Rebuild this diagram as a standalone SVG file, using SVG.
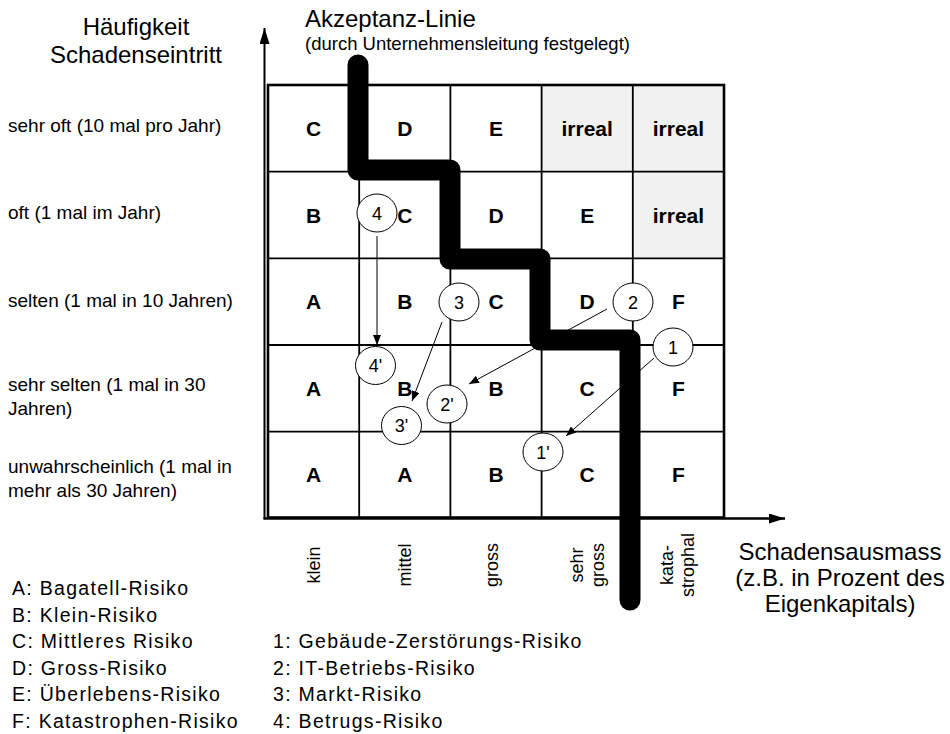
<svg xmlns="http://www.w3.org/2000/svg" width="950" height="734" viewBox="0 0 950 734">
  <defs>
    <marker id="tip" viewBox="0 0 10 8" refX="10" refY="4" markerWidth="10" markerHeight="8" markerUnits="userSpaceOnUse" orient="auto">
      <path d="M0,0 L10,4 L0,8 Z" fill="#000"/>
    </marker>
    <marker id="axisTip" viewBox="0 0 16 10" refX="16" refY="5" markerWidth="16" markerHeight="10" markerUnits="userSpaceOnUse" orient="auto">
      <path d="M0,0 L16,5 L0,10 Z" fill="#000"/>
    </marker>
  </defs>
  <style>
    text { font-family: "Liberation Sans", Arial, sans-serif; fill: #000; }
    .cell { font-size: 21px; font-weight: bold; text-anchor: middle; }
    .row { font-size: 19px; }
    .title { font-size: 24px; }
    .sub { font-size: 18.5px; }
    .col { font-size: 18px; text-anchor: middle; }
    .legend { font-size: 19.5px; letter-spacing: 1.3px; }
    .grid { stroke: #000; stroke-width: 1.8; fill: none; }
    .frame { stroke: #000; stroke-width: 2.6; fill: none; }
    .gray { fill: #f1f1f1; }
    .mark { fill: #fff; stroke: #000; stroke-width: 1; }
    .mlabel { font-size: 18px; text-anchor: middle; }
    .arrow { stroke: #000; stroke-width: 1; fill: none; marker-end: url(#tip); }
  </style>
  <rect width="950" height="734" fill="#fff"/>

  <!-- axis titles -->
  <g id="y-title">
    <text class="title" x="136" y="35" text-anchor="middle">Häufigkeit</text>
    <text class="title" x="136" y="63" text-anchor="middle">Schadenseintritt</text>
  </g>
  <g id="line-title">
    <text class="title" x="305" y="27">Akzeptanz-Linie</text>
    <text class="sub" x="305" y="50">(durch Unternehmensleitung festgelegt)</text>
  </g>
  <g id="x-title">
    <text class="title" x="840" y="560" text-anchor="middle">Schadensausmass</text>
    <text class="title" x="840" y="586" text-anchor="middle">(z.B. in Prozent des</text>
    <text class="title" x="840" y="612" text-anchor="middle">Eigenkapitals)</text>
  </g>

  <!-- frequency levels -->
  <g id="rows">
    <text class="row" x="8" y="132">sehr oft (10 mal pro Jahr)</text>
    <text class="row" x="8" y="219">oft (1 mal im Jahr)</text>
    <text class="row" x="8" y="307">selten (1 mal in 10 Jahren)</text>
    <text class="row" x="8" y="391">sehr selten (1 mal in 30</text>
    <text class="row" x="8" y="415">Jahren)</text>
    <text class="row" x="8" y="473">unwahrscheinlich (1 mal in</text>
    <text class="row" x="8" y="497">mehr als 30 Jahren)</text>
  </g>

  <!-- damage levels, rotated -->
  <g id="columns">
    <text class="col" transform="translate(320,565) rotate(-90)">klein</text>
    <text class="col" transform="translate(411,565) rotate(-90)">mittel</text>
    <text class="col" transform="translate(498,565) rotate(-90)">gross</text>
    <text class="col" transform="translate(583,565) rotate(-90)">sehr</text>
    <text class="col" transform="translate(604,565) rotate(-90)">gross</text>
    <text class="col" transform="translate(673,565) rotate(-90)">kata-</text>
    <text class="col" transform="translate(694,565) rotate(-90)">strophal</text>
  </g>

  <!-- risk matrix -->
  <g id="matrix">
    <rect class="gray" x="541.6" y="85" width="182.4" height="86.7"/>
    <rect class="gray" x="632.8" y="171.7" width="91.2" height="86.6"/>
    <path class="grid" d="M359.2,85 V517 M450.4,85 V517 M541.6,85 V517 M632.8,85 V517 M268,171.7 H724 M268,258.3 H724 M268,345 H724 M268,431.7 H724"/>
    <rect class="frame" x="268" y="85" width="456" height="432.5"/>
    <g id="cells">
      <text class="cell" x="313.6" y="136">C</text>
      <text class="cell" x="404.8" y="136">D</text>
      <text class="cell" x="496" y="136">E</text>
      <text class="cell" x="587.2" y="136">irreal</text>
      <text class="cell" x="678.4" y="136">irreal</text>
      <text class="cell" x="313.6" y="222.5">B</text>
      <text class="cell" x="404.8" y="222.5">C</text>
      <text class="cell" x="496" y="222.5">D</text>
      <text class="cell" x="587.2" y="222.5">E</text>
      <text class="cell" x="678.4" y="222.5">irreal</text>
      <text class="cell" x="313.6" y="309">A</text>
      <text class="cell" x="404.8" y="309">B</text>
      <text class="cell" x="496" y="309">C</text>
      <text class="cell" x="587.2" y="309">D</text>
      <text class="cell" x="678.4" y="309">F</text>
      <text class="cell" x="313.6" y="396">A</text>
      <text class="cell" x="404.8" y="396">B</text>
      <text class="cell" x="496" y="396">B</text>
      <text class="cell" x="587.2" y="396">C</text>
      <text class="cell" x="678.4" y="396">F</text>
      <text class="cell" x="313.6" y="482">A</text>
      <text class="cell" x="404.8" y="482">A</text>
      <text class="cell" x="496" y="482">B</text>
      <text class="cell" x="587.2" y="482">C</text>
      <text class="cell" x="678.4" y="482">F</text>
    </g>
  </g>

  <!-- axes -->
  <g id="axes">
    <line x1="264.5" y1="519" x2="264.5" y2="28" stroke="#000" stroke-width="2" marker-end="url(#axisTip)"/>
    <line x1="263.5" y1="518.5" x2="785" y2="518.5" stroke="#000" stroke-width="2.4" marker-end="url(#axisTip)"/>
  </g>

  <!-- risk markers: current position and position after measures -->
  <g id="m4"><ellipse class="mark" cx="377" cy="213" rx="20" ry="19"/><text class="mlabel" x="377" y="219.5">4</text></g>
  <g id="m3"><ellipse class="mark" cx="459" cy="302" rx="20" ry="19"/><text class="mlabel" x="459" y="308.5">3</text></g>
  <g id="m2"><ellipse class="mark" cx="633" cy="302" rx="20" ry="19"/><text class="mlabel" x="633" y="308.5">2</text></g>
  <g id="m1"><ellipse class="mark" cx="673" cy="347" rx="20" ry="19"/><text class="mlabel" x="673" y="353.5">1</text></g>
  <g id="m4b"><ellipse class="mark" cx="375.5" cy="365.5" rx="20" ry="19"/><text class="mlabel" x="375.5" y="372">4'</text></g>
  <g id="m3b"><ellipse class="mark" cx="401.5" cy="425.5" rx="20" ry="19"/><text class="mlabel" x="401.5" y="432">3'</text></g>
  <g id="m2b"><ellipse class="mark" cx="447" cy="404" rx="20" ry="19"/><text class="mlabel" x="447" y="410.5">2'</text></g>
  <g id="m1b"><ellipse class="mark" cx="543" cy="452" rx="20" ry="19"/><text class="mlabel" x="543" y="458.5">1'</text></g>

  <g id="connectors">
    <line class="arrow" x1="377" y1="236" x2="377" y2="345"/>
    <line class="arrow" x1="442" y1="322" x2="412" y2="401"/>
    <line class="arrow" x1="607" y1="309" x2="469" y2="384"/>
    <line class="arrow" x1="654" y1="358" x2="566" y2="436"/>
  </g>

  <!-- acceptance line -->
  <g id="acceptance-line">
    <path d="M358,65 V170 H450 V259 H540 V340 H630 V600" fill="none" stroke="#000" stroke-width="21" stroke-linecap="round" stroke-linejoin="round"/>
  </g>

  <!-- legends -->
  <g id="legend-classes">
    <text class="legend" x="12" y="595">A: Bagatell-Risiko</text>
    <text class="legend" x="12" y="621.6">B: Klein-Risiko</text>
    <text class="legend" x="12" y="648.2">C: Mittleres Risiko</text>
    <text class="legend" x="12" y="674.8">D: Gross-Risiko</text>
    <text class="legend" x="12" y="701.4">E: Überlebens-Risiko</text>
    <text class="legend" x="12" y="728">F: Katastrophen-Risiko</text>
  </g>
  <g id="legend-risks">
    <text class="legend" x="273" y="648.2">1: Gebäude-Zerstörungs-Risiko</text>
    <text class="legend" x="273" y="674.8">2: IT-Betriebs-Risiko</text>
    <text class="legend" x="273" y="701.4">3: Markt-Risiko</text>
    <text class="legend" x="273" y="728">4: Betrugs-Risiko</text>
  </g>
</svg>
